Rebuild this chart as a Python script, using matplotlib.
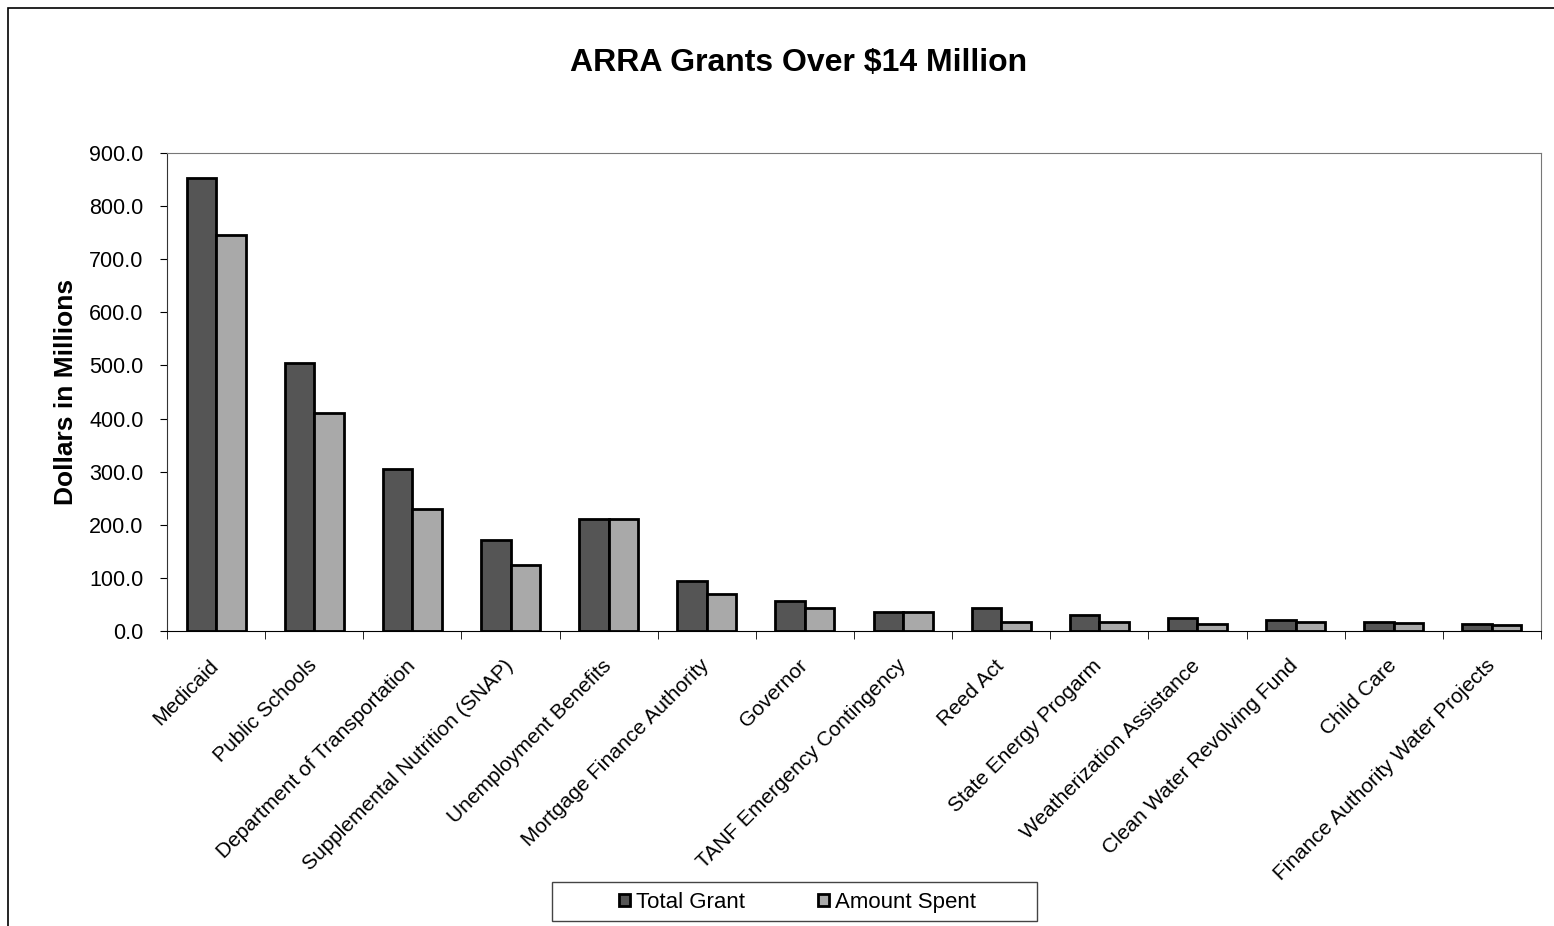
import matplotlib.pyplot as plt
import matplotlib.transforms as mtransforms
import numpy as np
from matplotlib.patches import Rectangle

plt.rcParams['font.family'] = ['Liberation Sans', 'DejaVu Sans']

categories = ['Medicaid', 'Public Schools', 'Department of Transportation',
              'Supplemental Nutrition (SNAP)', 'Unemployment Benefits',
              'Mortgage Finance Authority', 'Governor', 'TANF Emergency Contingency',
              'Reed Act', 'State Energy Progarm', 'Weatherization Assistance',
              'Clean Water Revolving Fund', 'Child Care',
              'Finance Authority Water Projects']
total_grant = [853, 505, 305, 171, 211, 94, 57, 35, 44, 31, 25, 21, 16, 13]
amount_spent = [746, 410, 230, 124, 211, 70, 44, 35, 16, 17, 14, 17, 15, 11]

fig = plt.figure(figsize=(15.54, 9.26), dpi=100)
# outer chart border (left and top visible)
fig.patches.append(Rectangle((8 / 1554, -0.05), 1.05, 1.05 - 8 / 926,
                             transform=fig.transFigure, fill=False,
                             edgecolor='black', linewidth=1.2))
ax = fig.add_axes([0.1075, 0.3186, 0.8841, 0.5162])

x = np.arange(len(categories))
w = 0.3
ax.bar(x - w / 2, total_grant, w, color='#555555', edgecolor='black',
       linewidth=2, label='Total Grant')
ax.bar(x + w / 2, amount_spent, w, color='#a9a9a9', edgecolor='black',
       linewidth=2, label='Amount Spent')

ax.set_xlim(-0.5, len(categories) - 0.5)
ax.set_ylim(0, 900)
ax.set_yticks(np.arange(0, 901, 100))
ax.set_yticklabels(['%.1f' % v for v in np.arange(0, 901, 100)], fontsize=15.5)
ax.tick_params(axis='y', length=5, pad=12)
ax.set_xticks(x)
ax.set_xticklabels(categories, rotation=45, ha='right', rotation_mode='anchor',
                   fontsize=15)
ax.tick_params(axis='x', which='major', length=0, pad=18)
shift = mtransforms.ScaledTranslation(-7 / 100, 0, fig.dpi_scale_trans)
for lab in ax.get_xticklabels():
    lab.set_transform(lab.get_transform() + shift)
ax.set_xticks(np.arange(-0.5, len(categories), 1), minor=True)
ax.tick_params(axis='x', which='minor', length=6)
ax.set_ylabel('Dollars in Millions', fontsize=19, fontweight='bold', labelpad=8)
for s in ax.spines.values():
    s.set_color('#777777')
ax.spines['bottom'].set_color('black')
ax.spines['left'].set_color('#333333')

fig.text(0.514, 0.932, 'ARRA Grants Over $14 Million', ha='center', va='center',
         fontsize=23, fontweight='bold')

leg = fig.legend(loc='center', bbox_to_anchor=(0.513, 0.0255), ncol=2,
                 fontsize=16, frameon=False,
                 handlelength=0.5, handleheight=0.5, handletextpad=0.25,
                 columnspacing=3.3)
fig.patches.append(Rectangle((552 / 1554, 5 / 926), 485 / 1554, 39 / 926,
                             transform=fig.transFigure, fill=False,
                             edgecolor='#444444', linewidth=1))

fig.savefig('out.png', dpi=100)
